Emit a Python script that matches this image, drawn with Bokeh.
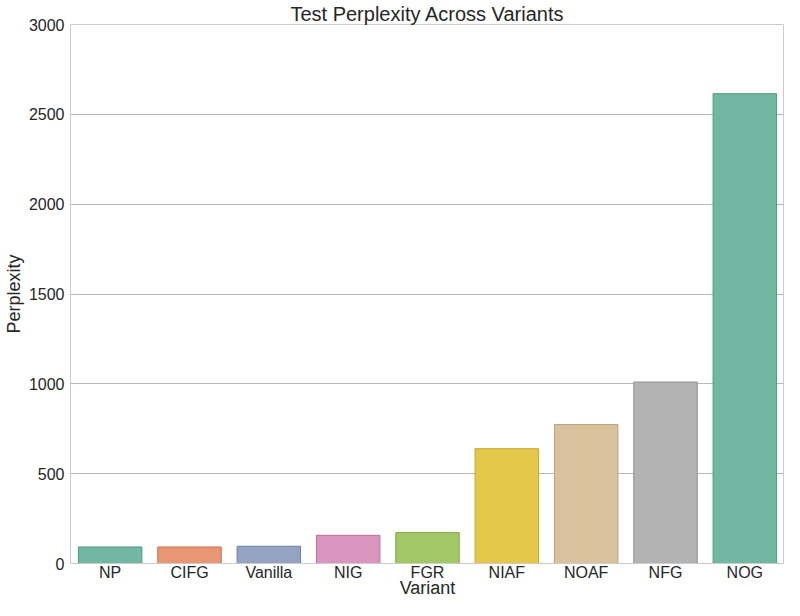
from bokeh.plotting import figure
from bokeh.models import ColumnDataSource, FactorRange, Range1d, FixedTicker
from bokeh.embed import file_html
from bokeh.resources import INLINE

variants = ["NP", "CIFG", "Vanilla", "NIG", "FGR", "NIAF", "NOAF", "NFG", "NOG"]
perplexity = [92, 92, 96, 157, 172, 639, 773, 1010, 2615]
fill_colors = ["#72b7a1", "#e99675", "#95a3c3", "#db96c0", "#a2c865",
               "#e5c849", "#dbc29e", "#b3b3b3", "#72b7a1"]
edge_colors = ["#4f9a82", "#c9724f", "#6f80a6", "#bb6d9d", "#80a844",
               "#c4a72a", "#b9a07c", "#8f8f8f", "#4f9a82"]
y_ticks = [0, 500, 1000, 1500, 2000, 2500, 3000]

src = ColumnDataSource(dict(x=variants, top=perplexity, fill=fill_colors, edge=edge_colors))

FONT = "Liberation Sans"
TXT = "#262626"

p = figure(width=784, height=600, output_backend="svg", toolbar_location=None,
           x_range=FactorRange(*variants, range_padding=0), y_range=Range1d(0, 3000),
           title="Test Perplexity Across Variants",
           min_border_left=55, min_border_right=0, min_border_top=0, min_border_bottom=30)

p.vbar(x="x", top="top", width=0.8, source=src, fill_color="fill", line_color="edge", line_width=1)

p.title.align = "center"
p.title.text_font = FONT
p.title.text_font_size = "20px"
p.title.text_font_style = "normal"
p.title.text_color = TXT
p.title.standoff = 0
p.title.offset = 0

p.outline_line_color = "#cccccc"
p.outline_line_width = 1
p.background_fill_color = "white"
p.border_fill_color = "white"

p.xgrid.grid_line_color = None
p.ygrid.grid_line_color = "#b8b8b8"
p.ygrid.grid_line_width = 1

p.yaxis.ticker = FixedTicker(ticks=y_ticks)
for ax in (p.xaxis[0], p.yaxis[0]):
    ax.axis_line_color = "#cccccc"
    ax.major_tick_line_color = None
    ax.minor_tick_line_color = None
    ax.major_tick_out = 0
    ax.major_tick_in = 0
    ax.minor_tick_out = 0
    ax.minor_tick_in = 0
    ax.major_label_text_font = FONT
    ax.major_label_text_font_size = "16px"
    ax.major_label_text_color = TXT
    ax.axis_label_text_font = FONT
    ax.axis_label_text_font_size = "18px"
    ax.axis_label_text_font_style = "normal"
    ax.axis_label_text_color = TXT

p.xaxis.axis_label = "Variant"
p.yaxis.axis_label = "Perplexity"
p.xaxis.major_label_standoff = 0
p.yaxis.major_label_standoff = 6
p.xaxis.axis_label_standoff = -6
p.yaxis.axis_label_standoff = 2

open("out.html", "w").write(file_html(p, INLINE))
